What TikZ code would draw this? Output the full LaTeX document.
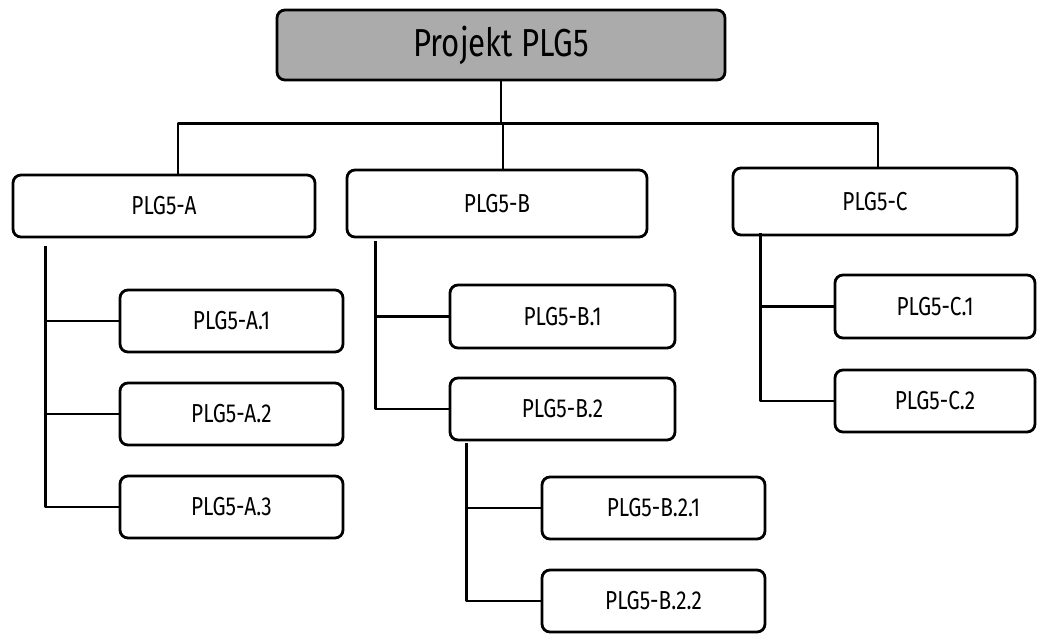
\documentclass[tikz,border=0pt]{standalone}
\usepackage{fontspec}
\setmainfont{Fira Sans}[FakeStretch=0.8]
\usetikzlibrary{calc}
\definecolor{boxgray}{RGB}{171,171,171}
\tikzset{
  wbox/.style={draw=black, line width=2.8pt, rounded corners=8pt, fill=white,
    inner sep=0pt, font=\fontsize{26}{30}\selectfont},
  topbox/.style={wbox, fill=boxgray, font=\fontsize{39}{44}\selectfont},
  link/.style={draw=black, line width=2.6pt, line join=round}
}
\begin{document}
\begin{tikzpicture}[x=1pt,y=-1pt]
\useasboundingbox (0,0) rectangle (1046,635);
% nodes
\node[topbox, minimum width=448pt, minimum height=70pt] (top) at (501,45) {Projekt PLG5};
\node[wbox, minimum width=302pt, minimum height=62pt] (A) at (164,206) {PLG5-A};
\node[wbox, minimum width=300pt, minimum height=67pt] (B) at (497,203.5) {PLG5-B};
\node[wbox, minimum width=284pt, minimum height=67pt] (C) at (875,201.5) {PLG5-C};
\node[wbox, minimum width=223pt, minimum height=62pt] (A1) at (231.5,321) {PLG5-A.1};
\node[wbox, minimum width=223pt, minimum height=62pt] (A2) at (231.5,414) {PLG5-A.2};
\node[wbox, minimum width=223pt, minimum height=62pt] (A3) at (231.5,507) {PLG5-A.3};
\node[wbox, minimum width=225pt, minimum height=63pt] (B1) at (562.5,316.5) {PLG5-B.1};
\node[wbox, minimum width=225pt, minimum height=62pt] (B2) at (562.5,409) {PLG5-B.2};
\node[wbox, minimum width=223pt, minimum height=62pt] (B21) at (653.5,508) {PLG5-B.2.1};
\node[wbox, minimum width=223pt, minimum height=62pt] (B22) at (653.5,601) {PLG5-B.2.2};
\node[wbox, minimum width=200pt, minimum height=63pt] (C1) at (935,306.5) {PLG5-C.1};
\node[wbox, minimum width=200pt, minimum height=62pt] (C2) at (935,401) {PLG5-C.2};
% junction coordinates
\path (top.south) ++(0,42) coordinate (bus);
\coordinate (aJ) at ($(A.north)+(14,0)$);
\coordinate (bJ) at ($(B.north)+(6,0)$);
\coordinate (cJ) at ($(C.north)+(3,0)$);
\coordinate (aT) at ($(A.south west)+(34,8)$);
\coordinate (bT) at ($(B.south west)+(30,3)$);
\coordinate (b2T) at ($(B2.south west)+(18,2)$);
\coordinate (cT) at ($(C.south west)+(29,-3)$);
% top level connectors
\draw[link] (top.south) -- (bus);
\draw[link] (aJ) -- (aJ |- bus) -- (cJ |- bus) -- (cJ);
\draw[link] (bJ |- bus) -- (bJ);
% A branch
\draw[link] (aT) |- (A3.west);
\draw[link] (aT |- A1.west) -- (A1.west);
\draw[link] (aT |- A2.west) -- (A2.west);
% B branch
\draw[link] (bT) |- (B2.west);
\draw[link] (bT |- B1.west) -- (B1.west);
\draw[link] (b2T) |- (B22.west);
\draw[link] (b2T |- B21.west) -- (B21.west);
% C branch
\draw[link] (cT) |- (C2.west);
\draw[link] (cT |- C1.west) -- (C1.west);
\end{tikzpicture}
\end{document}
